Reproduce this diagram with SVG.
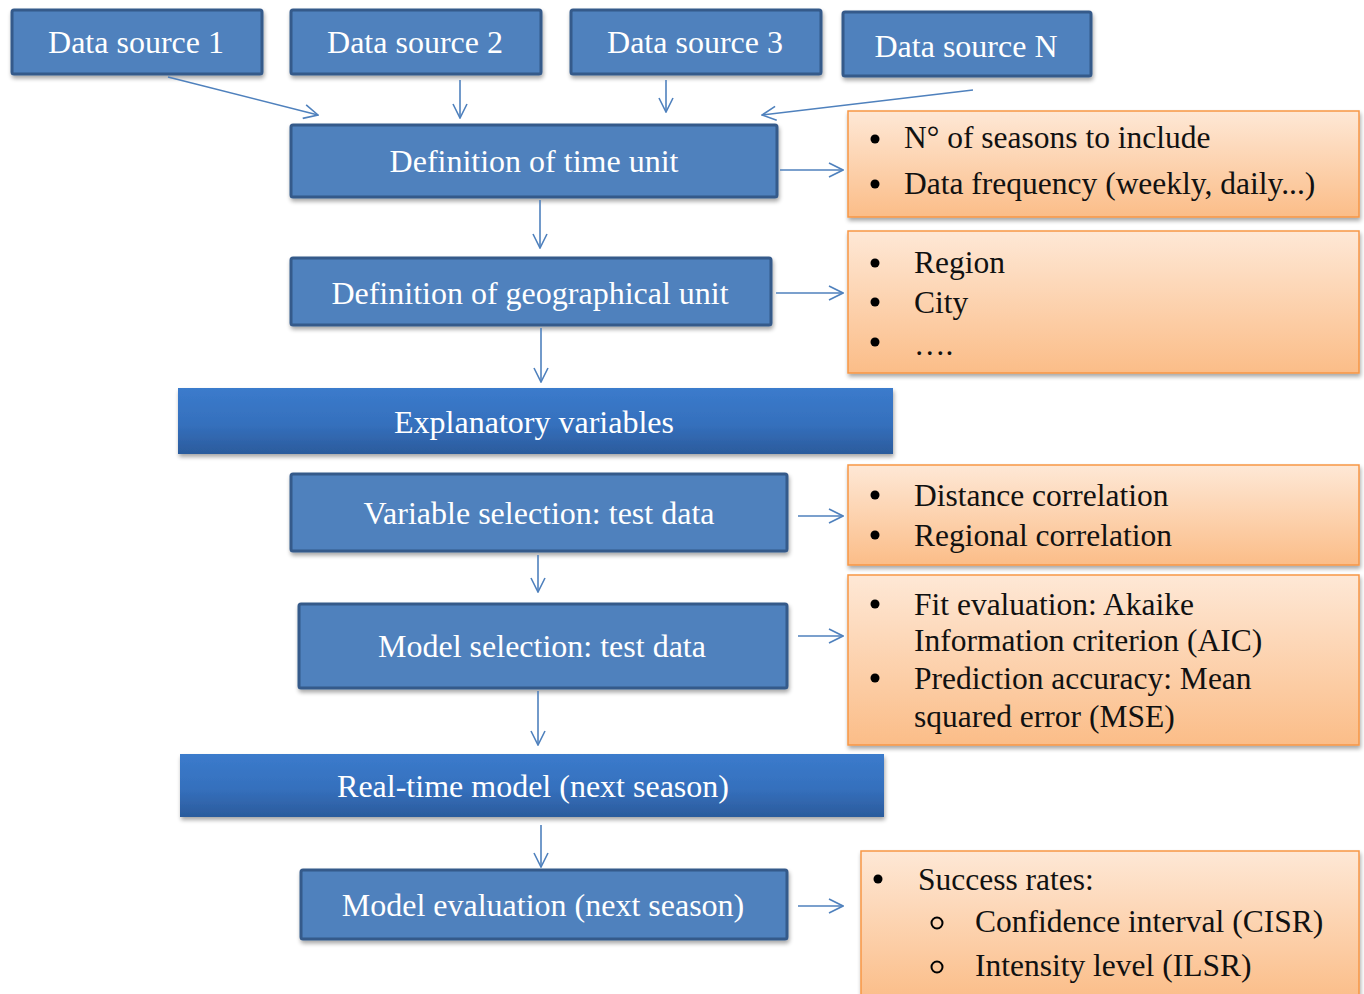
<svg xmlns="http://www.w3.org/2000/svg" width="1364" height="994" viewBox="0 0 1364 994">
<defs>
<linearGradient id="og" x1="0" y1="0" x2="0" y2="1"><stop offset="0" stop-color="#fee8d6"/><stop offset="1" stop-color="#fbbd88"/></linearGradient>
<linearGradient id="bg" x1="0" y1="0" x2="0" y2="1"><stop offset="0" stop-color="#3b7bcc"/><stop offset="0.55" stop-color="#3570bd"/><stop offset="1" stop-color="#2b5b9c"/></linearGradient>
<filter id="sh" x="-5%" y="-10%" width="110%" height="130%"><feGaussianBlur in="SourceAlpha" stdDeviation="2"/><feOffset dx="1" dy="3"/><feComponentTransfer><feFuncA type="linear" slope="0.35"/></feComponentTransfer><feMerge><feMergeNode/><feMergeNode in="SourceGraphic"/></feMerge></filter>
<marker id="ah" viewBox="0 0 16 16" refX="15" refY="8" markerWidth="16" markerHeight="16" markerUnits="userSpaceOnUse" orient="auto"><path d="M1,1 L15,8 L1,15" fill="none" stroke="#4f81bd" stroke-width="1.6"/></marker>
<style>
.b{fill:#4f81bd;stroke:#355a8a;stroke-width:3}
.g{fill:url(#bg)}
.o{fill:url(#og);stroke:#f79646;stroke-width:1.5}
.t{font-family:'Liberation Serif','Times New Roman','DejaVu Serif',serif;font-size:32px;fill:#ffffff;text-anchor:middle}
.k{font-family:'Liberation Serif','Times New Roman','DejaVu Serif',serif;font-size:31.5px;fill:#111111}
.c{stroke:#4f81bd;stroke-width:1.6;fill:none}
</style>
</defs>
<g id="ds1"><rect class="b" x="12" y="10" width="250" height="64" rx="2" filter="url(#sh)"/><text class="t" x="136" y="53">Data source 1</text></g>
<g id="ds2"><rect class="b" x="291" y="10" width="250" height="64" rx="2" filter="url(#sh)"/><text class="t" x="415" y="53">Data source 2</text></g>
<g id="ds3"><rect class="b" x="571" y="10" width="250" height="64" rx="2" filter="url(#sh)"/><text class="t" x="695" y="53">Data source 3</text></g>
<g id="dsn"><rect class="b" x="843" y="12" width="248" height="64" rx="2" filter="url(#sh)"/><text class="t" x="966" y="57">Data source N</text></g>
<g id="time"><rect class="b" x="291" y="125" width="486" height="72" rx="2" filter="url(#sh)"/><text class="t" x="534" y="172">Definition of time unit</text></g>
<g id="geo"><rect class="b" x="291" y="258" width="480" height="67" rx="2" filter="url(#sh)"/><text class="t" x="530" y="304">Definition of geographical unit</text></g>
<g id="expl"><rect class="g" x="178" y="388" width="715" height="66" filter="url(#sh)"/><text class="t" x="534" y="433">Explanatory variables</text></g>
<g id="varsel"><rect class="b" x="291" y="474" width="496" height="77" rx="2" filter="url(#sh)"/><text class="t" x="539" y="524">Variable selection: test data</text></g>
<g id="modsel"><rect class="b" x="299" y="604" width="488" height="84" rx="2" filter="url(#sh)"/><text class="t" x="542" y="657">Model selection: test data</text></g>
<g id="rt"><rect class="g" x="180" y="754" width="704" height="63" filter="url(#sh)"/><text class="t" x="533" y="797">Real-time model (next season)</text></g>
<g id="eval"><rect class="b" x="301" y="870" width="486" height="69" rx="2" filter="url(#sh)"/><text class="t" x="543" y="916">Model evaluation (next season)</text></g>
<g id="o1"><rect class="o" x="848" y="111" width="511" height="106" filter="url(#sh)"/>
<circle cx="875" cy="139" r="4.5" fill="#000"/><circle cx="875" cy="184" r="4.5" fill="#000"/>
<text class="k" x="904" y="148">N° of seasons to include</text><text class="k" x="904" y="194">Data frequency (weekly, daily...)</text></g>
<g id="o2"><rect class="o" x="848" y="231" width="511" height="142" filter="url(#sh)"/>
<circle cx="875" cy="263" r="4.5" fill="#000"/><circle cx="875" cy="302" r="4.5" fill="#000"/><circle cx="875" cy="342" r="4.5" fill="#000"/>
<text class="k" x="914" y="273">Region</text><text class="k" x="914" y="313">City</text><text class="k" x="914" y="355">….</text></g>
<g id="o3"><rect class="o" x="848" y="465" width="511" height="100" filter="url(#sh)"/>
<circle cx="875" cy="495" r="4.5" fill="#000"/><circle cx="875" cy="535" r="4.5" fill="#000"/>
<text class="k" x="914" y="506">Distance correlation</text><text class="k" x="914" y="546">Regional correlation</text></g>
<g id="o4"><rect class="o" x="848" y="575" width="511" height="170" filter="url(#sh)"/>
<circle cx="875" cy="604" r="4.5" fill="#000"/><circle cx="875" cy="678" r="4.5" fill="#000"/>
<text class="k" x="914" y="615">Fit evaluation: Akaike</text><text class="k" x="914" y="651">Information criterion  (AIC)</text>
<text class="k" x="914" y="689">Prediction accuracy: Mean</text><text class="k" x="914" y="727">squared error (MSE)</text></g>
<g id="o5"><rect class="o" x="861" y="851" width="498" height="150" filter="url(#sh)"/>
<circle cx="878" cy="879" r="4.5" fill="#000"/><circle cx="937" cy="923" r="5.5" fill="none" stroke="#000" stroke-width="2"/><circle cx="937" cy="967" r="5.5" fill="none" stroke="#000" stroke-width="2"/>
<text class="k" x="918" y="890">Success rates:</text><text class="k" x="975" y="932">Confidence interval (CISR)</text><text class="k" x="975" y="976">Intensity level (ILSR)</text></g>
<g id="connectors">
<line class="c" x1="168" y1="77" x2="318" y2="115" marker-end="url(#ah)"/>
<line class="c" x1="460" y1="80" x2="460" y2="118" marker-end="url(#ah)"/>
<line class="c" x1="666" y1="80" x2="666" y2="112" marker-end="url(#ah)"/>
<line class="c" x1="973" y1="90" x2="762" y2="115" marker-end="url(#ah)"/>
<line class="c" x1="540" y1="200" x2="540" y2="248" marker-end="url(#ah)"/>
<line class="c" x1="780" y1="170" x2="843" y2="170" marker-end="url(#ah)"/>
<line class="c" x1="541" y1="328" x2="541" y2="382" marker-end="url(#ah)"/>
<line class="c" x1="776" y1="293" x2="843" y2="293" marker-end="url(#ah)"/>
<line class="c" x1="538" y1="555" x2="538" y2="592" marker-end="url(#ah)"/>
<line class="c" x1="798" y1="516" x2="843" y2="516" marker-end="url(#ah)"/>
<line class="c" x1="538" y1="691" x2="538" y2="745" marker-end="url(#ah)"/>
<line class="c" x1="798" y1="636" x2="843" y2="636" marker-end="url(#ah)"/>
<line class="c" x1="541" y1="825" x2="541" y2="867" marker-end="url(#ah)"/>
<line class="c" x1="798" y1="906" x2="843" y2="906" marker-end="url(#ah)"/>
</g>
</svg>
